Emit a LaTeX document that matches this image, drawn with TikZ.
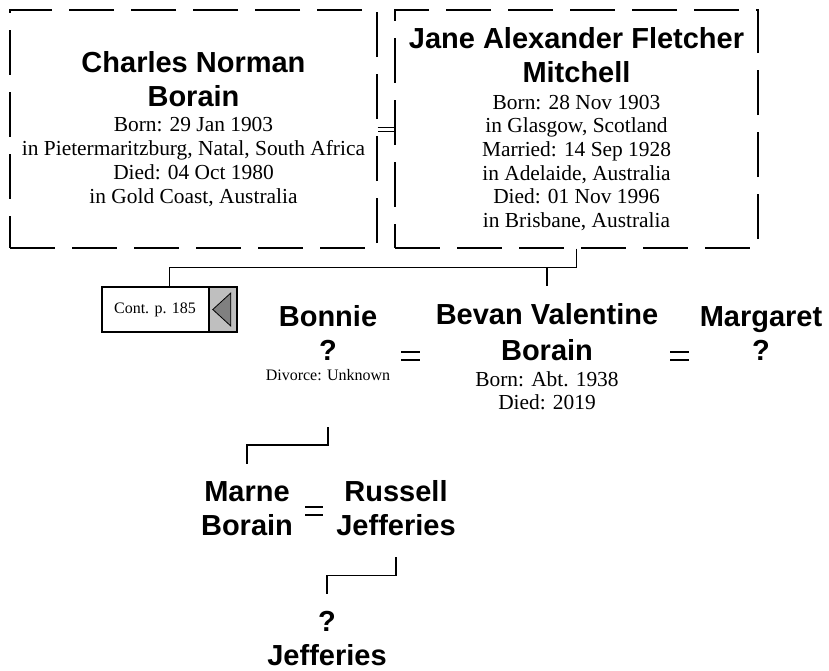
\documentclass[tikz,border=0pt]{standalone}
\usepackage{fontspec}
\setmainfont{Liberation Serif}
\newfontfamily\namefamily{Liberation Sans}
\usetikzlibrary{calc}

\newcommand\pname{\namefamily\bfseries\fontsize{29}{0}\selectfont}

\begin{document}
\begin{tikzpicture}[x=1pt,y=-1pt,line join=miter,
    every node/.style={inner sep=0pt,align=center,
      font={\fontsize{21.4}{0}\selectfont\lineskiplimit=-1000pt}},
    pbox/.style={draw,line width=1.1pt,dash pattern=on 45pt off 17pt,
      minimum width=365pt,minimum height=238pt},
    link/.style={line width=1.8pt},
    wed/.style={double,line width=1.6pt,double distance=6pt},
    contbox/.style={draw,line width=1.6pt,minimum width=135pt,minimum height=45pt,
      path picture={\fill[black!25] ([xshift=-29pt]path picture bounding box.north east)
        rectangle (path picture bounding box.south east);}}]
  \useasboundingbox (0,0) rectangle (829,670);

  % parents
  \node[pbox,minimum width=367pt] (charles) at (193.5,129)
    {{\pname Charles Norman}\\[34pt]{\pname Borain}\\[25pt]Born: 29 Jan 1903\\[24pt]
     in Pietermaritzburg, Natal, South Africa\\[24pt]Died: 04 Oct 1980\\[24pt]
     in Gold Coast, Australia};
  \node[pbox,minimum width=363pt] (jane) at (576.5,129)
    {{\pname Jane Alexander Fletcher}\\[34pt]{\pname Mitchell}\\[27pt]Born: 28 Nov 1903\\[23.5pt]
     in Glasgow, Scotland\\[23.5pt]Married: 14 Sep 1928\\[24pt]in Adelaide, Australia\\[23.5pt]
     Died: 01 Nov 1996\\[23.5pt]in Brisbane, Australia};
  \draw[line width=1pt,double,double distance=3pt] (charles.east) -- (jane.west);

  % continuation box
  \node[contbox] (cont) at (169.5,309.5) {};
  \node[font=\fontsize{16}{0}\selectfont] (contlabel) at ([xshift=-14.5pt]cont.center) {Cont. p. 185};
  \draw[line width=1.6pt] ([xshift=-29pt]cont.north east) -- ([xshift=-29pt]cont.south east);
  \filldraw[fill=black!50,line width=0.8pt] ([xshift=-25pt]cont.east)
    -- ([xshift=-7pt,yshift=16.5pt]cont.east) -- ([xshift=-7pt,yshift=-16.5pt]cont.east) -- cycle;

  % children
  \node[anchor=base] (bonnie) at (328,380.7)
    {{\pname Bonnie}\\[34pt]{\pname ?}\\[20.7pt]{\fontsize{16}{0}\selectfont Divorce: Unknown}};
  \node[anchor=base] (bevan) at (547,409)
    {{\pname Bevan Valentine}\\[35.5pt]{\pname Borain}\\[26.5pt]Born: Abt. 1938\\[22.5pt]Died: 2019};
  \node[anchor=base] (margaret) at (761,360) {{\pname Margaret}\\[34pt]{\pname ?}};

  \draw[link] (jane.south) -- ++(0,19) coordinate (kids1) -| (cont.north);
  \draw[link] (kids1 -| bevan) -- ++(0,18);

  \coordinate (w1) at (410.5,356);
  \coordinate (w2) at (679.5,356);
  \draw[wed] ([xshift=-9.5pt]w1) -- ([xshift=9.5pt]w1);
  \draw[wed] ([xshift=-9.5pt]w2) -- ([xshift=9.5pt]w2);

  % grandchildren
  \node[anchor=base] (marne) at (247,535) {{\pname Marne}\\[33.5pt]{\pname Borain}};
  \node[anchor=base] (russell) at (396,535) {{\pname Russell}\\[33.5pt]{\pname Jefferies}};
  \coordinate (w3) at (314,511);
  \draw[wed] ([xshift=-9pt]w3) -- ([xshift=9pt]w3);
  \draw[link] (bonnie.south) ++(0,46) -- ++(0,18) -| ([yshift=17pt]marne.north);

  \node[anchor=base] (kid) at (327,665) {{\pname ?}\\[34pt]{\pname Jefferies}};
  \draw[link] (russell.south) ++(0,22) -- ++(0,18) -| ([yshift=17pt]kid.north);
\end{tikzpicture}
\end{document}
